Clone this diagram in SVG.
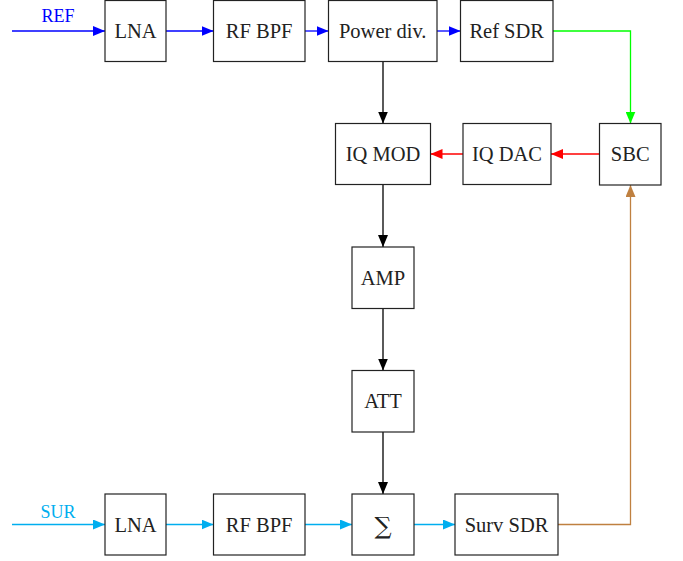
<svg xmlns="http://www.w3.org/2000/svg" width="683" height="561" viewBox="0 0 683 561">
<style>
.box{fill:#fff;stroke:#222;stroke-width:1.2}
.t{font-family:"Liberation Serif","Times New Roman",serif;font-size:20.5px;fill:#222;text-anchor:middle}
.lbl{font-family:"Liberation Serif","Times New Roman",serif;font-size:18px;text-anchor:middle}
.c{fill:none;stroke-width:1.3}
</style>
<defs>
<marker id="ab" viewBox="0 0 12 10" markerWidth="12" markerHeight="10" refX="12" refY="5" orient="auto" markerUnits="userSpaceOnUse"><path d="M0,0 L12,5 L0,10 z" fill="#0000ff"/></marker>
<marker id="ak" viewBox="0 0 12 10" markerWidth="12" markerHeight="10" refX="12" refY="5" orient="auto" markerUnits="userSpaceOnUse"><path d="M0,0 L12,5 L0,10 z" fill="#000"/></marker>
<marker id="ag" viewBox="0 0 12 10" markerWidth="12" markerHeight="10" refX="12" refY="5" orient="auto" markerUnits="userSpaceOnUse"><path d="M0,0 L12,5 L0,10 z" fill="#00ff00"/></marker>
<marker id="ar" viewBox="0 0 12 10" markerWidth="12" markerHeight="10" refX="12" refY="5" orient="auto" markerUnits="userSpaceOnUse"><path d="M0,0 L12,5 L0,10 z" fill="#ff0000"/></marker>
<marker id="ac" viewBox="0 0 12 10" markerWidth="12" markerHeight="10" refX="12" refY="5" orient="auto" markerUnits="userSpaceOnUse"><path d="M0,0 L12,5 L0,10 z" fill="#00aeef"/></marker>
<marker id="ao" viewBox="0 0 12 10" markerWidth="12" markerHeight="10" refX="12" refY="5" orient="auto" markerUnits="userSpaceOnUse"><path d="M0,0 L12,5 L0,10 z" fill="#bf8040"/></marker>
</defs>
<g id="connectors">
<path class="c" stroke="#0000ff" marker-end="url(#ab)" d="M12,31 H105"/>
<path class="c" stroke="#0000ff" marker-end="url(#ab)" d="M166,31 H213.5"/>
<path class="c" stroke="#0000ff" marker-end="url(#ab)" d="M305,31 H328.5"/>
<path class="c" stroke="#0000ff" marker-end="url(#ab)" d="M437,31 H460.5"/>
<path class="c" stroke="#00ff00" marker-end="url(#ag)" d="M553,31 H630.5 V123.5"/>
<path class="c" stroke="#ff0000" marker-end="url(#ar)" d="M599.5,154 H551"/>
<path class="c" stroke="#ff0000" marker-end="url(#ar)" d="M463,154 H430.5"/>
<path class="c" stroke="#000" marker-end="url(#ak)" d="M383,61.5 V123.5"/>
<path class="c" stroke="#000" marker-end="url(#ak)" d="M383,184.5 V247"/>
<path class="c" stroke="#000" marker-end="url(#ak)" d="M383,308.5 V370.5"/>
<path class="c" stroke="#000" marker-end="url(#ak)" d="M383,432 V494"/>
<path class="c" stroke="#00aeef" marker-end="url(#ac)" d="M12,524.5 H105"/>
<path class="c" stroke="#00aeef" marker-end="url(#ac)" d="M166,524.5 H213.5"/>
<path class="c" stroke="#00aeef" marker-end="url(#ac)" d="M305,524.5 H352"/>
<path class="c" stroke="#00aeef" marker-end="url(#ac)" d="M414,524.5 H455"/>
<path class="c" stroke="#bf8040" marker-end="url(#ao)" d="M558,524.5 H630.5 V185"/>
</g>
<text class="lbl" x="58" y="22" fill="#0000ff">REF</text>
<text class="lbl" x="58" y="518" fill="#00aeef">SUR</text>
<g id="lna1"><rect class="box" x="105" y="0.5" width="61" height="61"/><text class="t" x="135.5" y="38">LNA</text></g>
<g id="rfbpf1"><rect class="box" x="213.5" y="0.5" width="91.5" height="61"/><text class="t" x="259.2" y="38">RF BPF</text></g>
<g id="powerdiv"><rect class="box" x="328.5" y="0.5" width="108.5" height="61"/><text class="t" x="382.7" y="38">Power div.</text></g>
<g id="refsdr"><rect class="box" x="460.5" y="0.5" width="92.5" height="61"/><text class="t" x="506.7" y="38">Ref SDR</text></g>
<g id="iqmod"><rect class="box" x="335.5" y="123.5" width="95" height="61"/><text class="t" x="383" y="161">IQ MOD</text></g>
<g id="iqdac"><rect class="box" x="463" y="123.5" width="88" height="61"/><text class="t" x="507" y="161">IQ DAC</text></g>
<g id="sbc"><rect class="box" x="599.5" y="123.5" width="61.5" height="61.5"/><text class="t" x="630.2" y="161">SBC</text></g>
<g id="amp"><rect class="box" x="352" y="247" width="62" height="61.5"/><text class="t" x="383" y="284.5">AMP</text></g>
<g id="att"><rect class="box" x="352" y="370.5" width="62" height="61.5"/><text class="t" x="383" y="408">ATT</text></g>
<g id="lna2"><rect class="box" x="105" y="494" width="61" height="61"/><text class="t" x="135.5" y="531.5">LNA</text></g>
<g id="rfbpf2"><rect class="box" x="213.5" y="494" width="91.5" height="61"/><text class="t" x="259.2" y="531.5">RF BPF</text></g>
<g id="sum"><rect class="box" x="352" y="494" width="62" height="61"/><text class="t" x="383" y="534" style="font-family:'DejaVu Serif',serif;font-size:24px">∑</text></g>
<g id="survsdr"><rect class="box" x="455" y="494" width="103" height="61"/><text class="t" x="506.5" y="531.5">Surv SDR</text></g>
</svg>
